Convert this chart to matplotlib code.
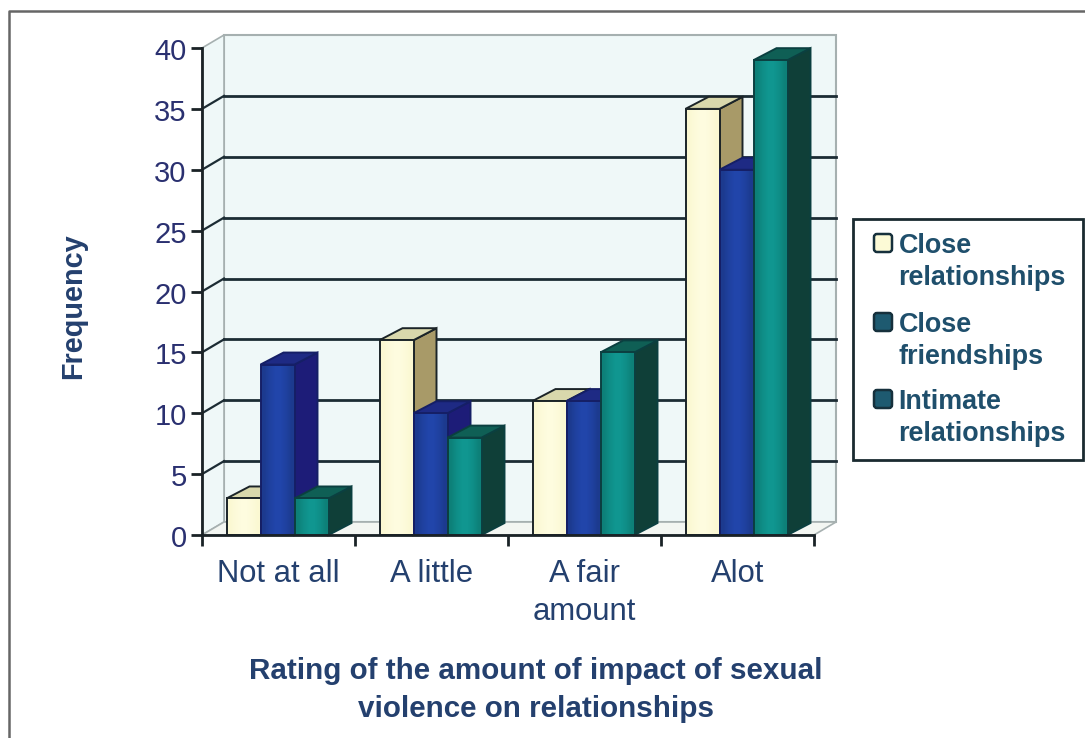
import matplotlib
matplotlib.use("Agg")
import matplotlib.pyplot as plt
import numpy as np
from matplotlib.colors import LinearSegmentedColormap
from matplotlib.patches import Polygon, Rectangle, FancyBboxPatch
from matplotlib.lines import Line2D
from matplotlib.transforms import ScaledTranslation

plt.rcParams["font.family"] = ["Liberation Sans", "DejaVu Sans"]

# Survey counts per rating
categories = ["Not at all", "A little", "A fair\namount", "Alot"]
close_relationships = [3, 16, 11, 35]
close_friendships = [14, 10, 11, 30]
intimate_relationships = [3, 8, 15, 39]
y_ticks = [0, 5, 10, 15, 20, 25, 30, 35, 40]

series_names = ["Close\nrelationships", "Close\nfriendships", "Intimate\nrelationships"]
series_values = [close_relationships, close_friendships, intimate_relationships]

# edge-to-centre front shading, then side, top and outline of each 3-D column
shades = [
    ("#fbf8d2", "#fefcdf", "#a89a68", "#d9d8ac", "#1b2428"),
    ("#1c3a8e", "#2145aa", "#1d1c78", "#1e2a84", "#151f66"),
    ("#0d8078", "#109690", "#0f3f38", "#0f5f55", "#0b3f40"),
]
NAVY = "#24406e"
TEAL_TEXT = "#1f4f6c"

W, H = 1085, 738
fig = plt.figure(figsize=(W / 100, H / 100), dpi=100, facecolor="white")


def fx(px):
    return px / W


def fy(py):
    return 1 - py / H


# Outer frame of the chart area
fig.add_artist(Line2D([fx(9), fx(9), fx(1085)], [fy(738), fy(11), fy(11)],
                      color="#666666", lw=1.8))

ax = fig.add_axes([fx(202), fy(535), fx(814) - fx(202), fy(48) - fy(535)])
ax.patch.set_visible(False)

# pixel-to-data scale of the axes, used for the oblique depth offsets
ux = 4 / (814 - 202)
uy = 40 / (535 - 48)
wall_dx, wall_dy = 22 * ux, 13 * uy
bar_dx, bar_dy = 23 * ux, 12 * uy

# Walls and floor of the 3-D box
wall = "#eff8f8"
ax.add_patch(Polygon([(wall_dx, wall_dy), (4 + wall_dx, wall_dy), (4 + wall_dx, 40 + wall_dy), (wall_dx, 40 + wall_dy)],
                     fc=wall, ec="#a6b0b0", lw=1.5, clip_on=False, zorder=1))
ax.add_patch(Polygon([(0, 0), (wall_dx, wall_dy), (wall_dx, 40 + wall_dy), (0, 40)],
                     fc=wall, ec="#a6b0b0", lw=1.2, clip_on=False, zorder=1))
ax.add_patch(Polygon([(0, 0), (4, 0), (4 + wall_dx, wall_dy), (wall_dx, wall_dy)],
                     fc="#f3f6f2", ec="#a6b0b0", lw=1.2, clip_on=False, zorder=1))
for v in y_ticks[1:-1]:
    ax.plot([wall_dx, 4 + wall_dx], [v + wall_dy] * 2, color="#1c2c34", lw=2, clip_on=False, zorder=2)
    ax.plot([0, wall_dx], [v, v + wall_dy], color="#1c2c34", lw=1.6, clip_on=False, zorder=2)

# Columns, painted left to right so later ones cover earlier side faces
bar_w = 34 * ux
profile = np.array([[0.0, 0.6, 1.0, 1.0, 0.6, 0.0]])
z = 3
for c in range(len(categories)):
    x0 = c + 0.5 - 1.5 * bar_w - ux
    for s, values in enumerate(series_values):
        v = values[c]
        left = x0 + s * bar_w
        right = left + bar_w
        rim, centre, side, top, edge = shades[s]
        cmap = LinearSegmentedColormap.from_list("front", [rim, centre])
        ax.add_patch(Polygon([(right, 0), (right + bar_dx, bar_dy), (right + bar_dx, v + bar_dy), (right, v)],
                             fc=side, ec=edge, lw=1.4, clip_on=False, zorder=z))
        ax.add_patch(Polygon([(left, v), (right, v), (right + bar_dx, v + bar_dy), (left + bar_dx, v + bar_dy)],
                             fc=top, ec=edge, lw=1.4, clip_on=False, zorder=z))
        ax.imshow(profile, extent=(left, right, 0, v), aspect="auto", cmap=cmap, vmin=0, vmax=1,
                  interpolation="bilinear", zorder=z)
        ax.add_patch(Rectangle((left, 0), bar_w, v, fc="none", ec=edge, lw=1.4, clip_on=False, zorder=z))
        z += 1

ax.set_xlim(0, 4)
ax.set_ylim(0, 40)

# Axes and ticks
for name in ("top", "right"):
    ax.spines[name].set_visible(False)
for name in ("left", "bottom"):
    ax.spines[name].set_color("#1a2226")
    ax.spines[name].set_linewidth(2)
    ax.spines[name].set_zorder(40)
ax.set_yticks(y_ticks)
ax.set_xticks(range(5))
ax.set_xticklabels([])
ax.set_xticks([0.5, 1.5, 2.5, 3.5], minor=True)
ax.set_xticklabels(categories, minor=True, fontsize=22.3, color=NAVY, linespacing=1.38, va="top")
ax.tick_params(axis="x", which="minor", length=0, pad=17)
ax.tick_params(axis="x", which="major", length=8, width=2, color="#1a2226")
ax.tick_params(axis="y", length=8, width=2, color="#1a2226", labelsize=21, labelcolor="#2a3070", pad=3)
nudge = ScaledTranslation(0, -1.0 / 100, fig.dpi_scale_trans)
for label in ax.get_yticklabels():
    label.set_transform(label.get_transform() + nudge)

# Axis titles
fig.text(fx(536), fy(690), "Rating of the amount of impact of sexual\nviolence on relationships",
         ha="center", va="center", fontsize=21.3, fontweight="bold", color=NAVY, linespacing=1.44)
fig.text(fx(73), fy(306), "Frequency", rotation=90, ha="center", va="center",
         fontsize=20.8, fontweight="bold", color=NAVY)

# Legend box with swatches aligned to the first line of each entry
fig.add_artist(Rectangle((fx(853), fy(460)), fx(1083) - fx(853), fy(219) - fy(460),
                         transform=fig.transFigure, fc="white", ec="#1a2a30", lw=2))
swatch_tops = [234, 313, 390]
swatch_colors = ["#fcfad6", "#1e5a70", "#1e5a70"]
for top, name, color in zip(swatch_tops, series_names, swatch_colors):
    fig.add_artist(FancyBboxPatch((875, H - top - 17), 16, 16, boxstyle="round,pad=1,rounding_size=3",
                                  transform=None, fc=color, ec="#16303c", lw=1.8))
    fig.text(fx(898.5), fy(top - 1), name, ha="left", va="top", fontsize=19.4, fontweight="bold",
             color=TEAL_TEXT, linespacing=1.28)

fig.savefig("out.png", dpi=100)
